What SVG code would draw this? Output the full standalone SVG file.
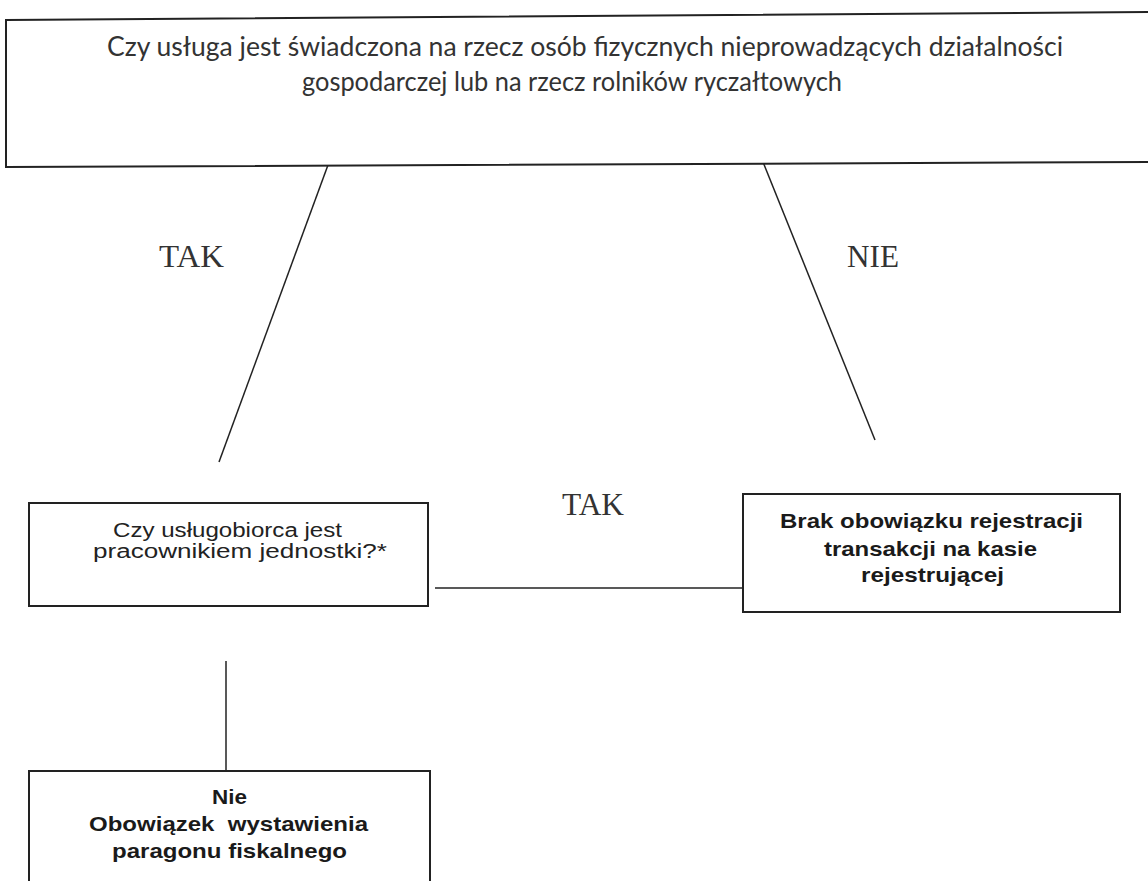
<svg xmlns="http://www.w3.org/2000/svg" width="1148" height="881" viewBox="0 0 1148 881">
<style>
.box{fill:#fff;stroke:#222;stroke-width:2}
.con{stroke:#222;stroke-width:1.5;fill:none}
.top{font-family:Lato,"Open Sans",sans-serif;font-size:26px;fill:#333}
.q{font-family:"Liberation Sans",Arial,sans-serif;font-size:20px;fill:#222}
.b{font-family:"Liberation Sans",Arial,sans-serif;font-size:21px;font-weight:bold;fill:#1a1a1a}
.lbl{font-family:"Liberation Serif","Times New Roman",serif;font-size:31px;fill:#333}
</style>
<rect width="1148" height="881" fill="#fff"/>
<g id="connectors">
<line class="con" x1="328" y1="165" x2="219" y2="462"/>
<line class="con" x1="763" y1="162" x2="875" y2="440"/>
<line class="con" x1="435" y1="588" x2="743" y2="588"/>
<line class="con" x1="226" y1="661" x2="226" y2="771"/>
<text class="lbl" x="159" y="267" textLength="65" lengthAdjust="spacingAndGlyphs">TAK</text>
<text class="lbl" x="847" y="267" textLength="52" lengthAdjust="spacingAndGlyphs">NIE</text>
<text class="lbl" x="562" y="515" textLength="62" lengthAdjust="spacingAndGlyphs">TAK</text>
</g>
<g id="node-top">
<polygon class="box" points="6,20 1152,12 1152,162 6,167"/>
<text class="top" x="107" y="56" textLength="956" lengthAdjust="spacingAndGlyphs">Czy usługa jest świadczona na rzecz osób fizycznych nieprowadzących działalności</text>
<text class="top" x="302" y="91" textLength="540" lengthAdjust="spacingAndGlyphs">gospodarczej lub na rzecz rolników ryczałtowych</text>
</g>
<g id="node-employee">
<rect class="box" x="29" y="503" width="399" height="103"/>
<text class="q" x="113" y="537" textLength="229" lengthAdjust="spacingAndGlyphs">Czy usługobiorca jest</text>
<text class="q" x="93" y="558" textLength="294" lengthAdjust="spacingAndGlyphs">pracownikiem jednostki?*</text>
</g>
<g id="node-no-obligation">
<rect class="box" x="743" y="494" width="377" height="118"/>
<text class="b" x="780" y="528" textLength="303" lengthAdjust="spacingAndGlyphs">Brak obowiązku rejestracji</text>
<text class="b" x="824" y="556" textLength="213" lengthAdjust="spacingAndGlyphs">transakcji na kasie</text>
<text class="b" x="861" y="582" textLength="143" lengthAdjust="spacingAndGlyphs">rejestrującej</text>
</g>
<g id="node-receipt">
<rect class="box" x="29" y="771" width="401" height="130"/>
<text class="b" x="212" y="804" textLength="35" lengthAdjust="spacingAndGlyphs">Nie</text>
<text class="b" x="89" y="831" xml:space="preserve" textLength="279" lengthAdjust="spacingAndGlyphs">Obowiązek  wystawienia</text>
<text class="b" x="112" y="858" textLength="235" lengthAdjust="spacingAndGlyphs">paragonu fiskalnego</text>
</g>
</svg>
